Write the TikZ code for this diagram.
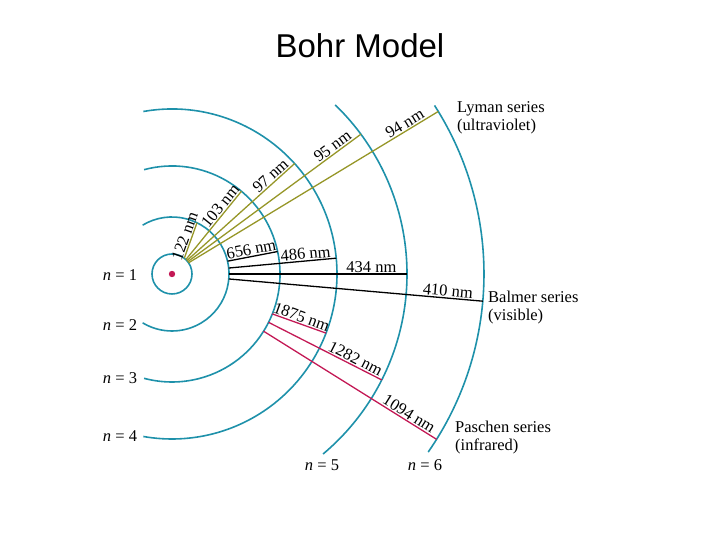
\documentclass[tikz,border=0pt]{standalone}
\usepackage{fontspec}
\setmainfont{Liberation Serif}
\newfontfamily\titlefont{Liberation Sans}
\begin{document}
\begin{tikzpicture}[x=1pt,y=1pt,
  orbit/.style={draw=orb,line width=1.6pt},
  lyman/.style={draw=lym,line width=1.3pt},
  balmer/.style={draw=black,line width=1.3pt},
  paschen/.style={draw=pas,line width=1.3pt},
  lbl/.style={font=\fontsize{16.5}{18}\selectfont,inner sep=1pt},
  wl/.style={font=\fontsize{16.5}{16.5}\selectfont,inner sep=1pt,sloped,above}]
\definecolor{orb}{RGB}{30,145,170}
\definecolor{lym}{RGB}{150,150,40}
\definecolor{pas}{RGB}{195,25,85}
\useasboundingbox (0,0) rectangle (720,540);
\node[font=\titlefont\fontsize{33}{33}\selectfont] (title) at (360,494) {Bohr Model};
\begin{scope}[shift={(172,266)}]
\fill[pas] (0,0) circle (3.2);
\draw[orbit] (0,0) circle (20);
\draw[orbit] (121:57) arc[start angle=121,end angle=-121,radius=57];
\draw[orbit] (105:108) arc[start angle=105,end angle=-105,radius=108];
\draw[orbit] (100:165) arc[start angle=100,end angle=-100,radius=165];
\draw[orbit] (46:235) arc[start angle=46,end angle=-50,radius=235];
\draw[orbit] (32.7:312) arc[start angle=32.7,end angle=-34.8,radius=312];
% Lyman
\coordinate (l1) at (52:20); \coordinate (l1e) at (64:57);
\coordinate (l2) at (46:20); \coordinate (l2e) at (50:108);
\coordinate (l3) at (42:20); \coordinate (l3e) at (42:165);
\coordinate (l4) at (38:20); \coordinate (l4e) at (36.5:235);
\coordinate (l5) at (34:20); \coordinate (l5e) at (31.4:312);
\draw[lyman] (l1) -- node[wl,pos=0.55]{122 nm} (l1e);
\draw[lyman] (l2) -- node[wl,pos=0.72]{103 nm} (l2e);
\draw[lyman] (l3) -- node[wl,pos=0.82]{97 nm} (l3e);
\draw[lyman] (l4) -- node[wl,pos=0.86]{95 nm} (l4e);
\draw[lyman] (l5) -- node[wl,pos=0.88]{94 nm} (l5e);
% Balmer
\coordinate (b1) at (13:57); \coordinate (b1e) at (12:108);
\coordinate (b2) at (6:57); \coordinate (b2e) at (5.5:165);
\coordinate (b3) at (0:57); \coordinate (b3e) at (0:235);
\coordinate (b4) at (-5:57); \coordinate (b4e) at (-5:312);
\draw[balmer] (b1) -- node[wl,pos=0.5]{656 nm} (b1e);
\draw[balmer] (b2) -- node[wl,pos=0.72]{486 nm} (b2e);
\draw[balmer] (b3) -- node[wl,pos=0.8]{434 nm} (b3e);
\draw[balmer] (b4) -- node[wl,pos=0.86]{410 nm} (b4e);
% Paschen
\coordinate (p1) at (-21.7:108); \coordinate (p1e) at (-21:165);
\coordinate (p2) at (-26.6:108); \coordinate (p2e) at (-26.8:235);
\coordinate (p3) at (-32:108); \coordinate (p3e) at (-32:312);
\draw[paschen] (p1) -- node[wl,pos=0.5]{1875 nm} (p1e);
\draw[paschen] (p2) -- node[wl,pos=0.74]{1282 nm} (p2e);
\draw[paschen] (p3) -- node[wl,pos=0.82]{1094 nm} (p3e);
\end{scope}
\node[lbl] (n1) at (120,265) {\textit{n} = 1};
\node[lbl] (n2) at (120,215) {\textit{n} = 2};
\node[lbl] (n3) at (120,162) {\textit{n} = 3};
\node[lbl] (n4) at (120,104) {\textit{n} = 4};
\node[lbl] (n5) at (322,75) {\textit{n} = 5};
\node[lbl] (n6) at (425,75) {\textit{n} = 6};
\node[lbl,anchor=west,align=left] (ly) at (456,422) {Lyman series\\(ultraviolet)};
\node[lbl,anchor=west,align=left] (ba) at (487,232) {Balmer series\\(visible)};
\node[lbl,anchor=west,align=left] (pa) at (454,102) {Paschen series\\(infrared)};
\end{tikzpicture}
\end{document}
